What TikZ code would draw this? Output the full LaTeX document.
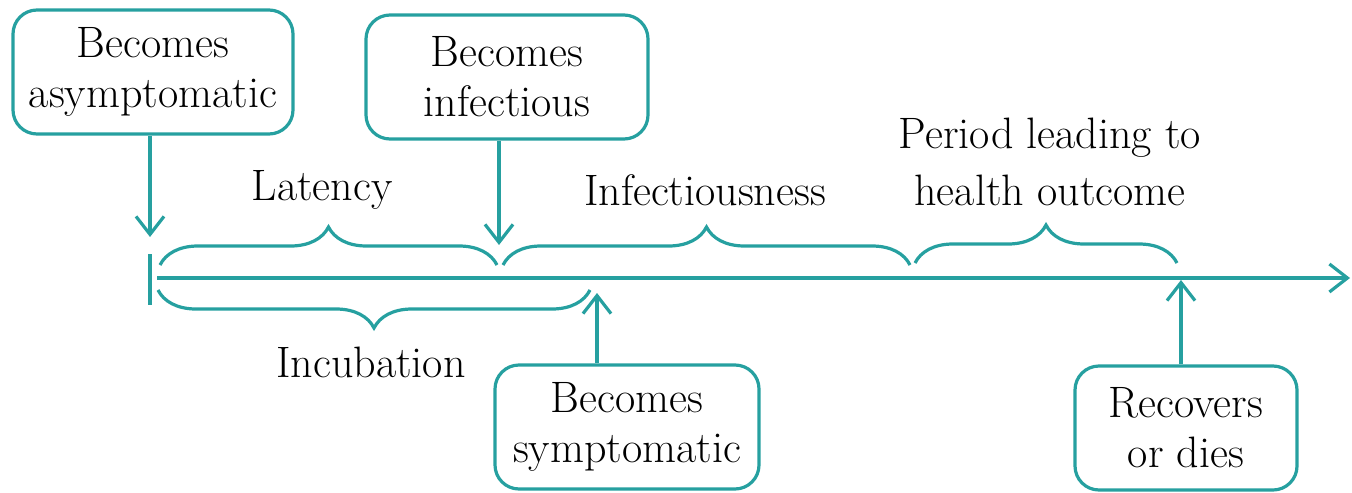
\documentclass[tikz,border=0pt]{standalone}
\usetikzlibrary{arrows.meta,decorations.pathreplacing}
\definecolor{tealline}{RGB}{38,160,160}

\begin{document}
\begin{tikzpicture}[x=0.5pt,y=-0.5pt]
\tikzstyle{every node}+=[font=\fontsize{22}{25}\selectfont]
\tikzset{box/.style={draw=tealline,line width=1.6pt,rounded corners=12pt,align=center,minimum height=62pt,inner sep=1pt},
  arr/.style={draw=tealline,line width=1.6pt,-{Straight Barb[length=9pt,width=14pt]}},
  tline/.style={draw=tealline,line width=1.6pt},
  brc/.style={draw=tealline,line width=1.6pt,decorate,decoration={brace,amplitude=19pt}}}
\useasboundingbox (0,0) rectangle (1352,492);
% event boxes
\node [box,minimum width=140pt] (asym) at (153,72) {Becomes\\asymptomatic};
\node [box,minimum width=141pt] (infect) at (507,77) {Becomes\\infectious};
\node [box,minimum width=132pt] (sympt) at (627,427) {Becomes\\symptomatic};
\node [box,minimum width=111pt] (outc) at (1186,428) {Recovers\\or dies};
% period labels
\node (lat) at (322,190) {Latency};
\node (infness) at (705,190) {Infectiousness};
\node [align=center,font=\fontsize{22}{28.5}\selectfont] (period) at (1050,162) {Period leading to\\health outcome};
\node (incub) at (371,362) {Incubation};
% time axis
\coordinate (t0) at (157,278);
\coordinate (t1) at (1350,278);
\coordinate (k0) at (150,254);
\coordinate (k1) at (150,305);
\draw [arr] (t0) -- (t1);
\draw [tline] (k0) -- (k1);
% braces
\coordinate (b0) at (160,265);
\coordinate (b1) at (497,265);
\coordinate (b2) at (503,265);
\coordinate (b3) at (910,265);
\coordinate (b4) at (915,263);
\coordinate (b5) at (1177,263);
\coordinate (b6) at (158,290);
\coordinate (b7) at (590,290);
\draw [brc] (b0) -- (b1);
\draw [brc] (b2) -- (b3);
\draw [brc] (b4) -- (b5);
\draw [brc,decoration={mirror}] (b6) -- (b7);
% arrows to the axis
\coordinate (a0) at (150,237);
\coordinate (a1) at (499,245);
\coordinate (a2) at (597,293);
\coordinate (a3) at (1181,280);
\draw [arr] (asym.south -| a0) -- (a0);
\draw [arr] (infect.south -| a1) -- (a1);
\draw [arr] (sympt.north -| a2) -- (a2);
\draw [arr] (outc.north -| a3) -- (a3);
\end{tikzpicture}
\end{document}
